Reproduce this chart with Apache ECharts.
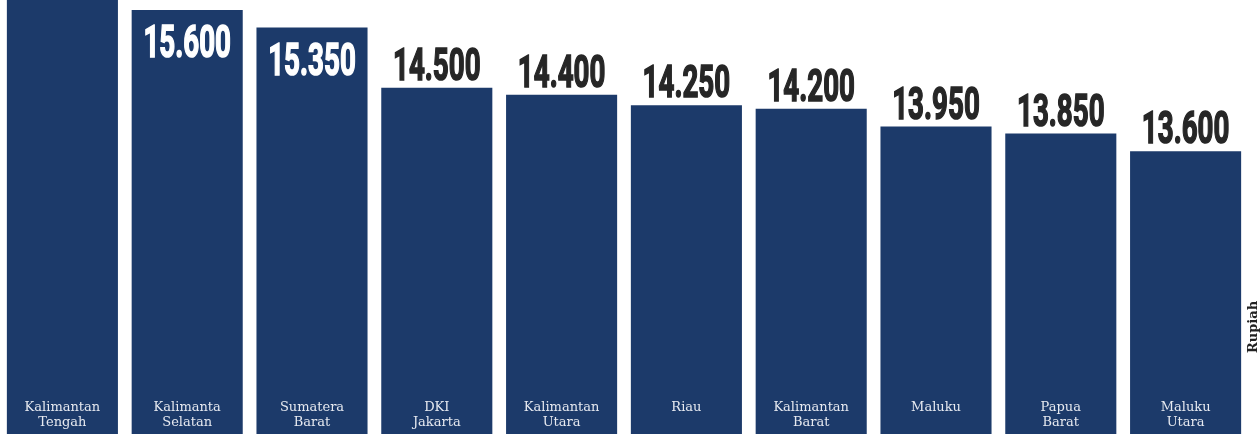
<!DOCTYPE html>
<html lang="id">
<head>
    <meta charset="UTF-8">
    <title>Rupiah</title>
    <style>
        html, body { margin: 0; padding: 0; background: #fff; }
    </style>
</head>
<body>
<div id='main' style="height: 434px;width: 1260px"></div>
<script src="https://cdn.jsdelivr.net/npm/echarts@6/dist/echarts.min.js"></script>
<script>
    // kategori (provinsi) dan nilai
    var categories = ['Kalimantan\nTengah', 'Kalimanta\nSelatan', 'Sumatera\nBarat', 'DKI\nJakarta', 'Kalimantan\nUtara',
        'Riau', 'Kalimantan\nBarat', 'Maluku', 'Papua\nBarat', 'Maluku\nUtara'];
    // nilai pertama terpotong di gambar, ditaksir
    var values = [16000, 15600, 15350, 14500, 14400, 14250, 14200, 13950, 13850, 13600];
    // label yang masuk ke dalam batang
    var insideLabels = [1, 2];

    var myChart = echarts.init(document.getElementById('main'));

    function fmt(v) {
        return String(v).replace(/\B(?=(\d{3})+(?!\d))/g, '.');
    }

    // label angka dengan huruf dipadatkan (scaleX)
    function renderLabel(params, api) {
        var idx = params.dataIndex;
        var pt = api.coord([api.value(0), api.value(1)]);
        var inside = insideLabels.indexOf(idx) >= 0;
        var col = inside ? '#ffffff' : '#262626';
        return {
            type: 'text',
            x: pt[0],
            y: inside ? pt[1] + 36 : pt[1] - 19,
            scaleX: 0.63,
            style: {
                text: fmt(api.value(1)),
                fontFamily: 'Roboto',
                fontWeight: 'bold',
                fontSize: 44,
                fill: col,
                stroke: col,
                lineWidth: 1.6,
                align: 'center',
                verticalAlign: 'middle'
            }
        };
    }

    var option = {
        animation: false,
        grid: {left: 0, right: 12, top: 0, bottom: 0},
        xAxis: {
            type: 'category',
            data: categories,
            axisLine: {show: false},
            axisTick: {show: false},
            axisLabel: {
                inside: true,
                margin: 34,
                verticalAlign: 'top',
                color: '#e6e9f0',
                fontFamily: 'DejaVu Serif',
                fontSize: 13,
                lineHeight: 15,
                interval: 0
            },
            z: 10
        },
        yAxis: {
            type: 'value',
            min: 9600,
            max: 15740,
            show: false
        },
        series: [{
            type: 'bar',
            data: values,
            barCategoryGap: '11%',
            itemStyle: {color: '#1c3a6a'}
        }, {
            type: 'custom',
            data: values.map(function (v, i) { return [i, v]; }),
            encode: {x: 0, y: 1},
            renderItem: renderLabel,
            z: 5
        }],
        graphic: [{
            type: 'text',
            x: 1254,
            y: 327,
            rotation: Math.PI / 2,
            style: {
                text: 'Rupiah',
                fontFamily: 'DejaVu Serif',
                fontWeight: 'bold',
                fontSize: 13,
                fill: '#222',
                align: 'center',
                verticalAlign: 'middle'
            }
        }]
    };
    myChart.setOption(option);
</script>
</body>
</html>
